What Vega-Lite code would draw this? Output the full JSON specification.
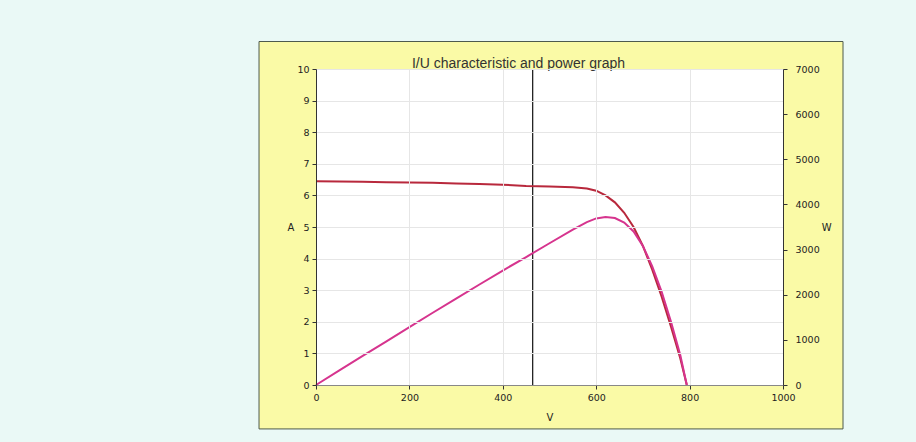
{
  "$schema": "https://vega.github.io/schema/vega-lite/v6.json",
  "width": 467,
  "height": 316,
  "autosize": {"type": "none"},
  "padding": {"left": 316, "top": 69, "right": 133, "bottom": 57},
  "background": "#eaf9f6",
  "config": {
    "view": {"stroke": null},
    "axis": {
      "labelFont": "DejaVu Sans",
      "labelFontSize": 9.5,
      "labelColor": "#222",
      "titleFont": "DejaVu Sans",
      "titleFontSize": 10,
      "titleFontWeight": "normal",
      "titleColor": "#222",
      "tickColor": "#333",
      "tickSize": 4,
      "domainColor": "#333",
      "gridColor": "#e6e6e6",
      "labelPadding": 3,
      "labelOverlap": false,
      "labelFlush": false
    }
  },
  "title": {
    "text": "I/U characteristic and power graph",
    "font": "Liberation Sans",
    "fontSize": 14,
    "fontWeight": "normal",
    "color": "#333",
    "dx": -31,
    "offset": -30
  },
  "datasets": {
    "iv": [
      {"U": 0, "I": 6.45, "P": 0},
      {"U": 50, "I": 6.44, "P": 322},
      {"U": 100, "I": 6.43, "P": 643},
      {"U": 150, "I": 6.42, "P": 963},
      {"U": 200, "I": 6.41, "P": 1282},
      {"U": 250, "I": 6.40, "P": 1600},
      {"U": 300, "I": 6.38, "P": 1914},
      {"U": 350, "I": 6.36, "P": 2226},
      {"U": 400, "I": 6.34, "P": 2536},
      {"U": 450, "I": 6.30, "P": 2835},
      {"U": 500, "I": 6.28, "P": 3140},
      {"U": 550, "I": 6.26, "P": 3443},
      {"U": 580, "I": 6.22, "P": 3608},
      {"U": 600, "I": 6.15, "P": 3690},
      {"U": 620, "I": 6.00, "P": 3720},
      {"U": 640, "I": 5.78, "P": 3699},
      {"U": 660, "I": 5.45, "P": 3597},
      {"U": 680, "I": 5.00, "P": 3400},
      {"U": 700, "I": 4.40, "P": 3080},
      {"U": 720, "I": 3.65, "P": 2628},
      {"U": 740, "I": 2.80, "P": 2072},
      {"U": 760, "I": 1.85, "P": 1406},
      {"U": 780, "I": 0.85, "P": 663},
      {"U": 794, "I": 0, "P": 0}
    ]
  },
  "layer": [
    {
      "layer": [
        {
          "data": {"values": [{}]},
          "mark": {"type": "rect", "fill": "#fafaa6", "stroke": "#4d5a4d", "strokeWidth": 1},
          "encoding": {
            "x": {
              "datum": -122,
              "type": "quantitative",
              "scale": {"domain": [0, 1000], "nice": false},
              "axis": {
                "zindex": 1,
                "values": [0, 200, 400, 600, 800, 1000],
                "tickCount": 20,
                "format": "d",
                "title": "V",
                "titlePadding": 11,
                "domainColor": "#888",
                "grid": true
              }
            },
            "x2": {"datum": 1128.5},
            "y": {
              "datum": 10.87,
              "type": "quantitative",
              "scale": {"domain": [0, 10], "nice": false},
              "axis": {
                "zindex": 1,
                "values": [0, 1, 2, 3, 4, 5, 6, 7, 8, 9, 10],
                "tickCount": 20,
                "format": "d",
                "title": "A",
                "titleAngle": 0,
                "titleAlign": "right",
                "titleBaseline": "middle",
                "titlePadding": 3,
                "grid": true
              }
            },
            "y2": {"datum": -1.39}
          }
        },
        {
          "data": {"values": [{}]},
          "mark": {"type": "rect", "fill": "#ffffff"},
          "encoding": {
            "x": {"datum": 0, "type": "quantitative"},
            "x2": {"datum": 1000},
            "y": {"datum": 0, "type": "quantitative"},
            "y2": {"datum": 10}
          }
        },
        {
          "data": {"values": [{"cursor": 464}]},
          "mark": {"type": "rule", "color": "#111111", "strokeWidth": 1.2},
          "encoding": {
            "x": {"field": "cursor", "type": "quantitative"}
          }
        },
        {
          "data": {"name": "iv"},
          "mark": {"type": "line", "color": "#b8283c", "strokeWidth": 2},
          "encoding": {
            "x": {"field": "U", "type": "quantitative"},
            "y": {"field": "I", "type": "quantitative"}
          }
        }
      ]
    },
    {
      "data": {"name": "iv"},
      "mark": {"type": "line", "color": "#d6348e", "strokeWidth": 2},
      "encoding": {
        "x": {"field": "U", "type": "quantitative"},
        "y": {
          "field": "P",
          "type": "quantitative",
          "scale": {"domain": [0, 7000], "nice": false},
          "axis": {
            "zindex": 1,
            "orient": "right",
            "values": [0, 1000, 2000, 3000, 4000, 5000, 6000, 7000],
            "tickCount": 20,
            "format": "d",
            "title": "W",
            "titleAngle": 0,
            "titleAlign": "left",
            "titleBaseline": "middle",
            "titlePadding": 2,
            "grid": false,
            "labelPadding": 8
          }
        }
      }
    }
  ],
  "resolve": {"scale": {"y": "independent"}}
}
